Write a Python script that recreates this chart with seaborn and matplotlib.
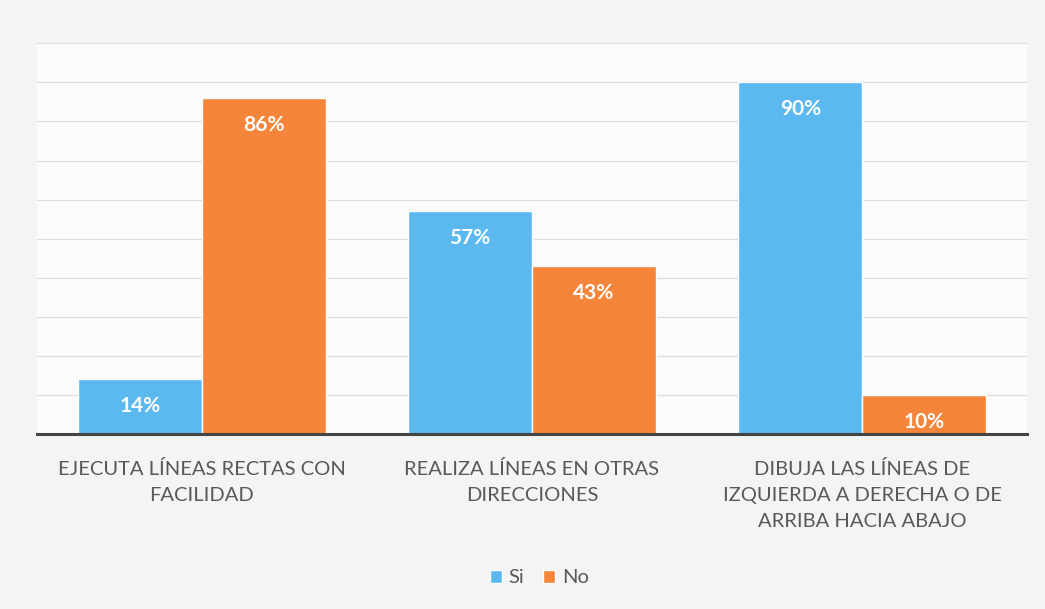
import matplotlib
matplotlib.use("Agg")
import matplotlib.pyplot as plt
import seaborn as sns
import pandas as pd
from matplotlib.patches import Patch

categories = [
    "EJECUTA LÍNEAS RECTAS CON\nFACILIDAD",
    "REALIZA LÍNEAS EN OTRAS\nDIRECCIONES",
    "DIBUJA LAS LÍNEAS DE\nIZQUIERDA A DERECHA O DE\nARRIBA HACIA ABAJO",
]
series_names = ["Si", "No"]
si_values = [14, 57, 90]
no_values = [86, 43, 10]
colors = ["#5cb9f0", "#f5853a"]

df = pd.DataFrame({
    "categoria": categories * 2,
    "serie": [series_names[0]] * 3 + [series_names[1]] * 3,
    "valor": si_values + no_values,
})

sns.set_style("white")
plt.rcParams["font.family"] = ["Lato", "DejaVu Sans"]

fig = plt.figure(figsize=(10.45, 6.09), dpi=100)
fig.patch.set_facecolor("#f4f4f4")
ax = fig.add_axes([0.035, 0.287, 0.948, 0.642])
ax.set_facecolor("#fbfbfb")

sns.barplot(data=df, x="categoria", y="valor", hue="serie",
            palette=colors, width=0.75, saturation=1, ax=ax,
            legend=False, zorder=2)

ax.set_ylim(0, 100)
ax.set_yticks(range(10, 101, 10))
ax.yaxis.grid(True, color="#dcdcdc", linewidth=0.9, zorder=0)
ax.set_axisbelow(True)
ax.tick_params(axis="y", left=False, labelleft=False)
ax.tick_params(axis="x", bottom=False, labelsize=14.5, labelcolor="#595959", pad=15)
for lbl in ax.get_xticklabels():
    lbl.set_linespacing(1.65)
ax.set_xlabel("")
ax.set_ylabel("")
for side in ["top", "right", "left"]:
    ax.spines[side].set_visible(False)
ax.spines["bottom"].set_color("#454545")
ax.spines["bottom"].set_linewidth(2.2)

for container in ax.containers:
    for bar in container:
        h = bar.get_height()
        ax.annotate(f"{h:.0f}%", (bar.get_x() + bar.get_width() / 2, h),
                    xytext=(0, -27), textcoords="offset pixels",
                    ha="center", va="center", color="white",
                    fontsize=15, fontweight="bold", zorder=3)

handles = [Patch(facecolor=c, label=n) for c, n in zip(colors, series_names)]
fig.legend(handles=handles, loc="center", bbox_to_anchor=(0.516, 0.051),
           ncol=2, frameon=False, fontsize=14.5, handlelength=0.6,
           handleheight=0.6, handletextpad=0.35, columnspacing=0.9,
           labelcolor="#595959")

fig.savefig("out.png", dpi=100, facecolor=fig.get_facecolor())
